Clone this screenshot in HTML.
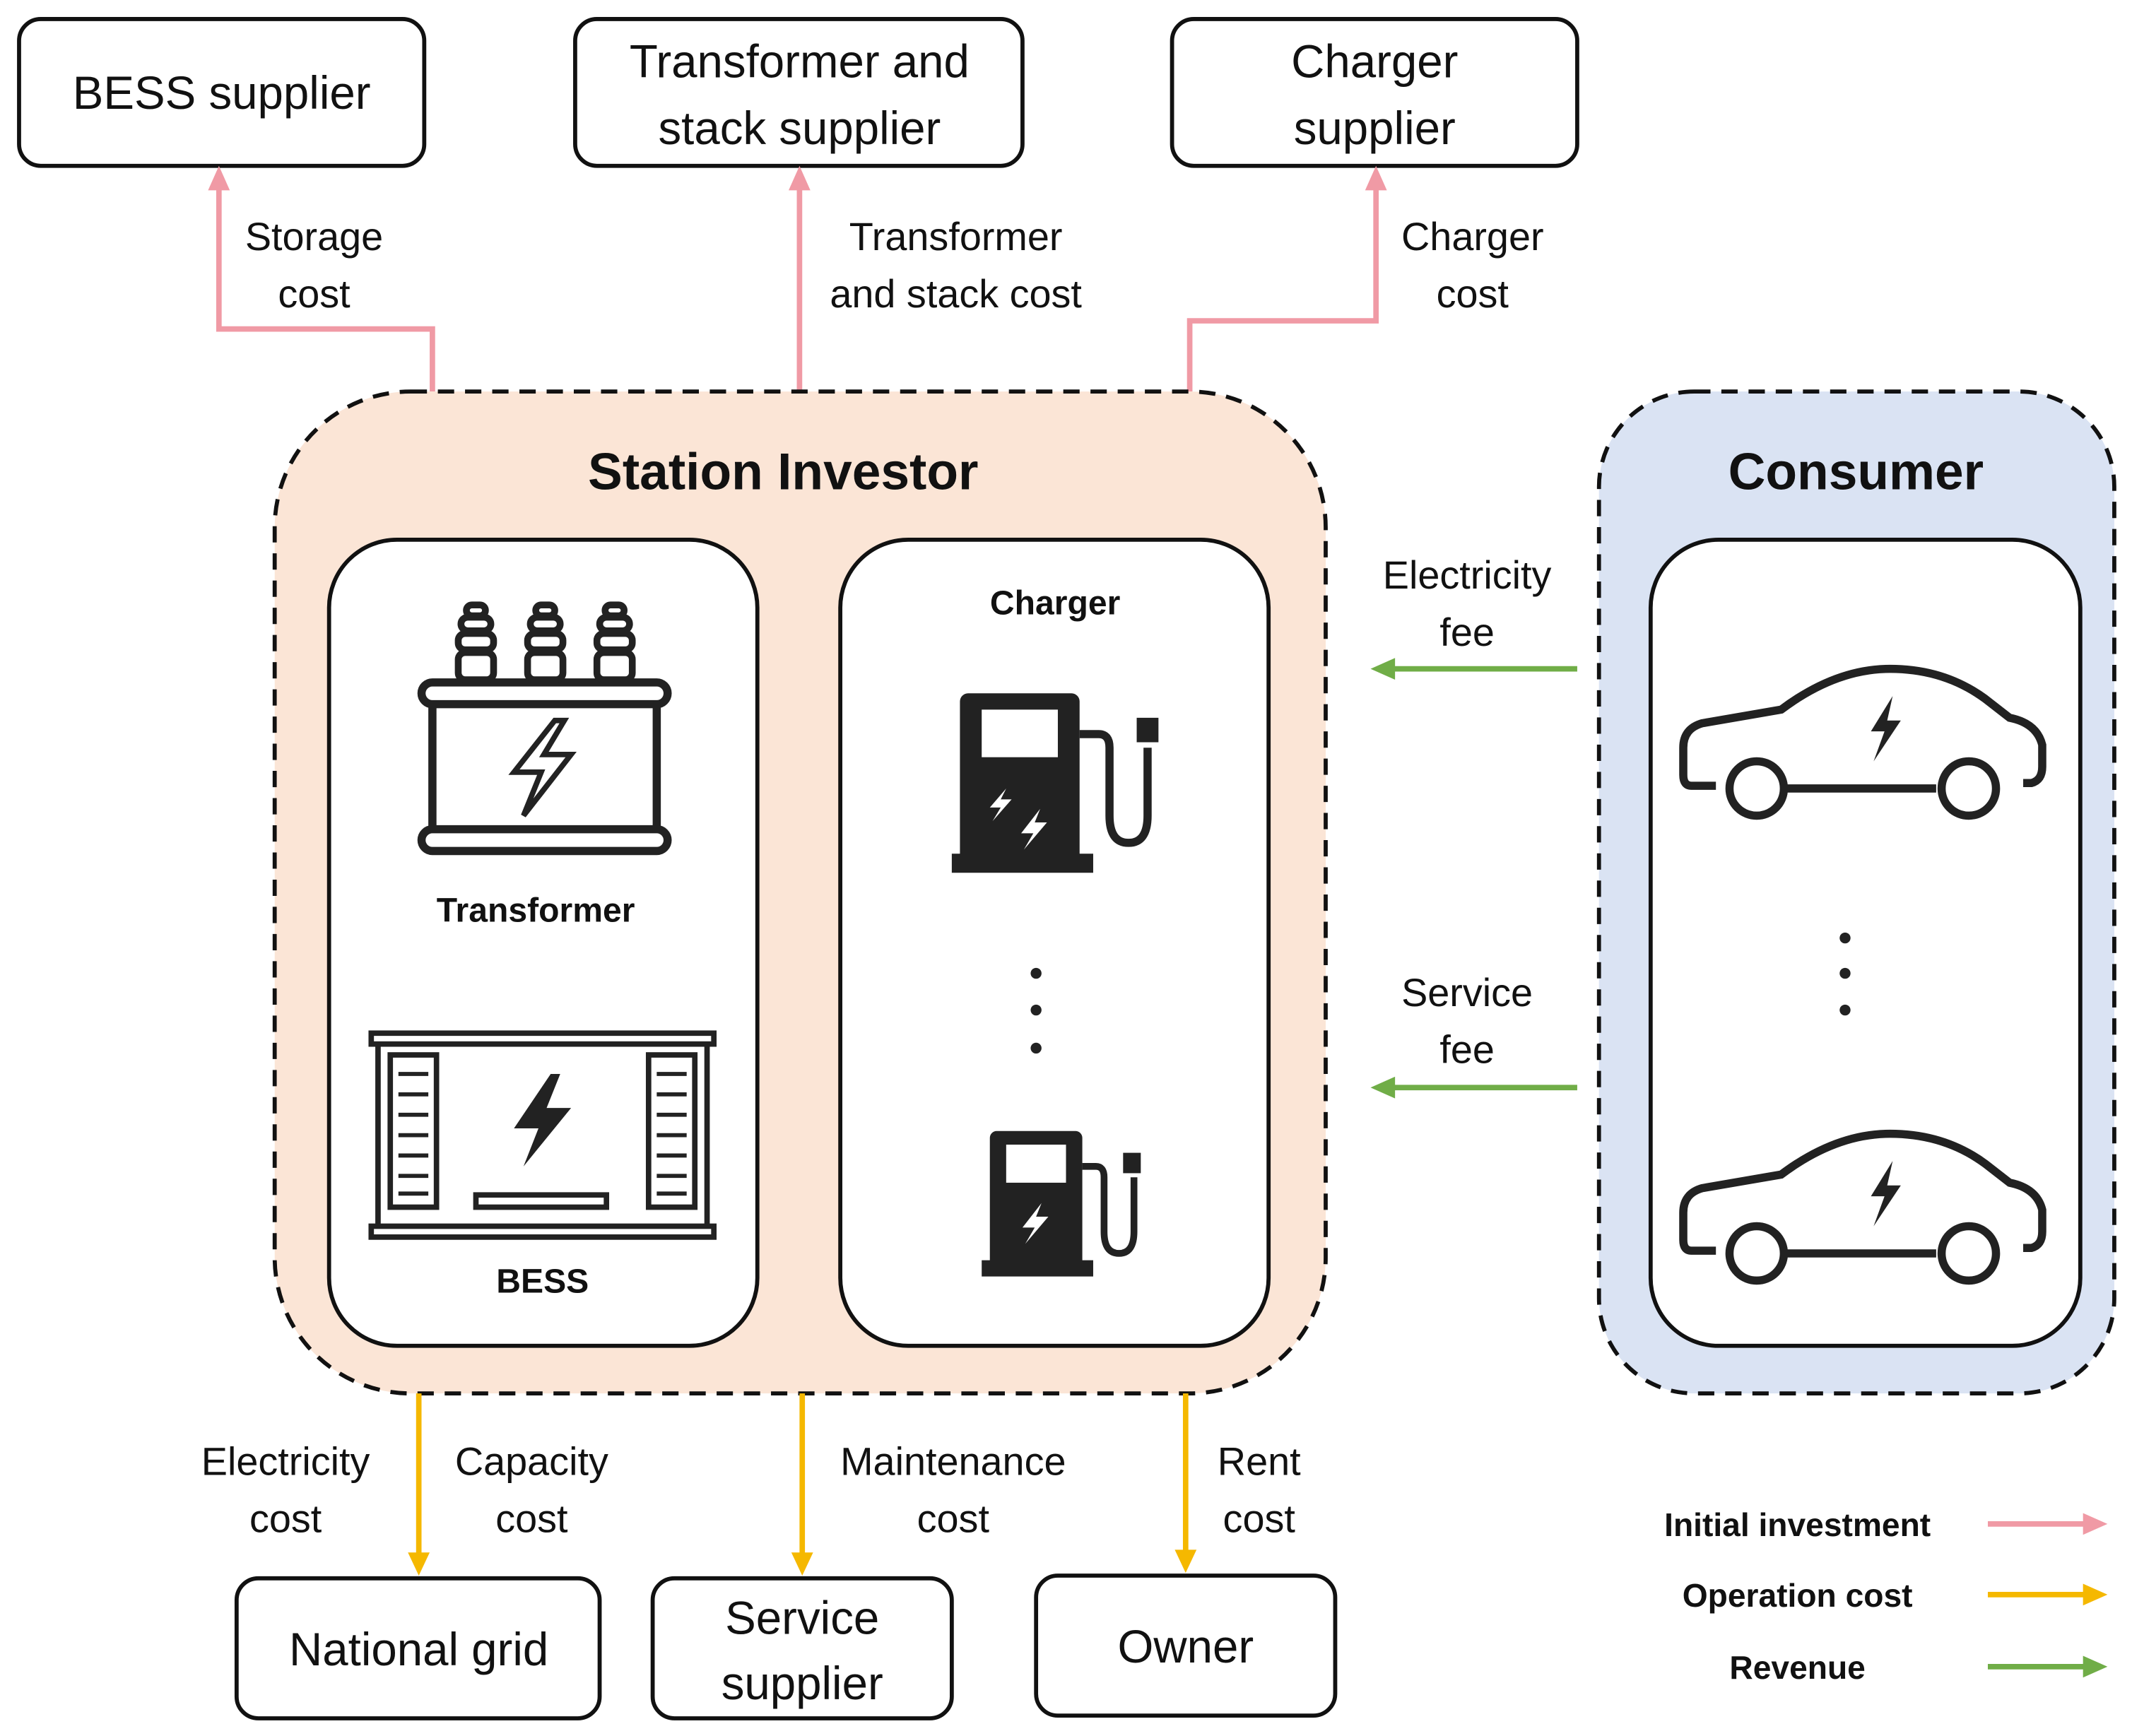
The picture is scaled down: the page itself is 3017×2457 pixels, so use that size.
<!DOCTYPE html>
<html><head><meta charset="utf-8"><style>
html,body{margin:0;padding:0;background:#fff;}
svg{display:block;}
text{font-family:"Liberation Sans","DejaVu Sans",sans-serif;fill:#111;}
</style></head><body>
<svg width="3017" height="2457" viewBox="0 0 1568 1277" xmlns="http://www.w3.org/2000/svg">
<defs>
<marker id="ap" markerWidth="8" markerHeight="8" refX="4" refY="4" orient="auto" markerUnits="userSpaceOnUse" viewBox="0 0 8 8"><path d="M0,0 L8,4 L0,8 z" fill="#f09aa5"/></marker>
</defs>
<rect width="1568" height="1277" fill="#fff"/>
<!-- top boxes -->
<g fill="#fff" stroke="#111" stroke-width="3">
<rect x="14" y="14" width="298" height="108" rx="16"/>
<rect x="423" y="14" width="329" height="108" rx="16"/>
<rect x="862" y="14" width="298" height="108" rx="16"/>
<rect x="174" y="1161" width="267" height="103" rx="16"/>
<rect x="480" y="1161" width="220" height="103" rx="16"/>
<rect x="762" y="1159" width="220" height="103" rx="16"/>
</g>
<g font-size="34" text-anchor="middle">
<text x="163" y="80">BESS supplier</text>
<text x="588" y="57">Transformer and</text>
<text x="588" y="106">stack supplier</text>
<text x="1011" y="57">Charger</text>
<text x="1011" y="106">supplier</text>
<text x="308" y="1225">National grid</text>
<text x="590" y="1202">Service</text>
<text x="590" y="1250">supplier</text>
<text x="872" y="1223">Owner</text>
</g>
<!-- pink arrows -->
<g fill="none" stroke="#f09aa5" stroke-width="4">
<polyline points="318,288 318,242 161,242 161,138"/>
<line x1="588" y1="288" x2="588" y2="138"/>
<polyline points="875,288 875,236 1012,236 1012,138"/>
</g>
<g fill="#f09aa5">
<polygon points="161,122 153,140 169,140"/>
<polygon points="588,122 580,140 596,140"/>
<polygon points="1012,122 1004,140 1020,140"/>
</g>
<g font-size="29" text-anchor="middle">
<text x="231" y="184">Storage</text><text x="231" y="226">cost</text>
<text x="703" y="184">Transformer</text><text x="703" y="226">and stack cost</text>
<text x="1083" y="184">Charger</text><text x="1083" y="226">cost</text>
</g>
<!-- big boxes -->
<rect x="202" y="288" width="773" height="737" rx="100" fill="#fbe5d6" stroke="#111" stroke-width="3" stroke-dasharray="12,8"/>
<rect x="1176" y="288" width="379" height="737" rx="70" fill="#dae3f3" stroke="#111" stroke-width="3" stroke-dasharray="12,8"/>
<text x="576" y="360" font-size="38" font-weight="bold" text-anchor="middle">Station Investor</text>
<text x="1365" y="360" font-size="38" font-weight="bold" text-anchor="middle">Consumer</text>
<g fill="#fff" stroke="#111" stroke-width="3">
<rect x="242" y="397" width="315" height="593" rx="50"/>
<rect x="618" y="397" width="315" height="593" rx="50"/>
<rect x="1214" y="397" width="316" height="593" rx="50"/>
</g>
<g font-size="25" font-weight="bold" text-anchor="middle">
<text x="776" y="452">Charger</text>
<text x="394" y="678">Transformer</text>
<text x="399" y="951">BESS</text>
</g>
<!-- transformer icon -->
<g fill="none" stroke="#222" stroke-width="6">
<rect x="318" y="510" width="165" height="108" rx="6"/>
<rect x="310" y="502" width="181" height="16" rx="8" fill="#fff"/>
<rect x="310" y="610" width="181" height="16" rx="8" fill="#fff"/>
<path d="M408,530 L378,568 L398,568 L385,600 L420,555 L400,555 L415,530 Z" stroke-width="4"/>
</g>
<g fill="#fff" stroke="#222" stroke-width="5">
<g id="ins"><rect x="337" y="480" width="26" height="20" rx="5"/><rect x="337" y="466" width="26" height="12" rx="5"/><rect x="339" y="454" width="22" height="10" rx="5"/><rect x="343" y="445" width="14" height="8" rx="4"/></g>
<use href="#ins" x="51"/><use href="#ins" x="102"/>
</g>
<!-- BESS icon -->
<g fill="none" stroke="#222" stroke-width="4">
<rect x="273" y="760" width="252" height="8"/>
<rect x="273" y="902" width="252" height="8"/>
<line x1="278" y1="768" x2="278" y2="902"/><line x1="520" y1="768" x2="520" y2="902"/>
<rect x="287" y="776" width="34" height="112"/>
<rect x="477" y="776" width="34" height="112"/>
<rect x="350" y="879" width="96" height="9"/>
</g>
<g stroke="#222" stroke-width="3">
<line x1="293" y1="790" x2="315" y2="790"/><line x1="293" y1="805" x2="315" y2="805"/><line x1="293" y1="820" x2="315" y2="820"/><line x1="293" y1="835" x2="315" y2="835"/><line x1="293" y1="850" x2="315" y2="850"/><line x1="293" y1="865" x2="315" y2="865"/><line x1="293" y1="878" x2="315" y2="878"/>
<line x1="483" y1="790" x2="505" y2="790"/><line x1="483" y1="805" x2="505" y2="805"/><line x1="483" y1="820" x2="505" y2="820"/><line x1="483" y1="835" x2="505" y2="835"/><line x1="483" y1="850" x2="505" y2="850"/><line x1="483" y1="865" x2="505" y2="865"/><line x1="483" y1="878" x2="505" y2="878"/>
</g>
<path d="M405,790 L378,830 L396,830 L385,858 L420,815 L402,815 L412,790 Z" fill="#222"/>
<!-- chargers -->
<g id="ch1">
<path d="M712,510 h76 a6,6 0 0 1 6,6 v112 h10 v14 h-104 v-14 h6 v-112 a6,6 0 0 1 6,-6 z" fill="#222"/>
<rect x="722" y="522" width="56" height="35" fill="#fff"/>
<path d="M794,540 h14 q8,0 8,10 v50 q0,20 14,20 q14,0 14,-20 v-50" fill="none" stroke="#222" stroke-width="6"/>
<rect x="836" y="528" width="16" height="18" fill="#222"/>
<path d="M740,580 l-12,14 h8 l-6,10 14,-16 h-8z M765,595 l-14,18 h9 l-7,12 17,-20 h-9z" fill="#fff"/>
</g>
<g>
<path d="M733,832 h58 a5,5 0 0 1 5,5 v90 h8 v12 h-82 v-12 h6 v-90 a5,5 0 0 1 5,-5 z" fill="#222"/>
<rect x="740" y="842" width="44" height="28" fill="#fff"/>
<path d="M796,858 h10 q6,0 6,8 v40 q0,16 11,16 q11,0 11,-16 v-40" fill="none" stroke="#222" stroke-width="5"/>
<rect x="826" y="848" width="13" height="15" fill="#222"/>
<path d="M766,885 l-14,18 h9 l-7,12 17,-20 h-9z" fill="#fff"/>
</g>
<g fill="#222">
<circle cx="762" cy="716" r="4"/><circle cx="762" cy="743" r="4"/><circle cx="762" cy="771" r="4"/>
<circle cx="1357" cy="690" r="4"/><circle cx="1357" cy="716" r="4"/><circle cx="1357" cy="743" r="4"/>
</g>
<!-- cars -->
<g id="car" fill="none" stroke="#222" stroke-width="6">
<path d="M1262,578 h-18 q-6,0 -6,-8 v-20 q0,-14 14,-18 l58,-10 q40,-30 80,-30 q40,0 70,22 l18,14 q20,4 24,20 v16 q0,10 -8,12 h-6 M1314,580 h110 M1468,580 h0"/>
<circle cx="1292" cy="580" r="20"/><circle cx="1448" cy="580" r="20"/>
<path d="M1392,512 l-16,26 h10 l-8,22 20,-30 h-10z" fill="#222" stroke="none"/>
</g>
<use href="#car" y="342"/>
<!-- green arrows -->
<g stroke="#70ad47" stroke-width="4" fill="#70ad47">
<line x1="1160" y1="492" x2="1024" y2="492"/><polygon points="1008,492 1026,484 1026,500" stroke="none"/>
<line x1="1160" y1="800" x2="1024" y2="800"/><polygon points="1008,800 1026,792 1026,808" stroke="none"/>
</g>
<g font-size="29" text-anchor="middle">
<text x="1079" y="433">Electricity</text><text x="1079" y="475">fee</text>
<text x="1079" y="740">Service</text><text x="1079" y="782">fee</text>
</g>
<!-- yellow arrows -->
<g stroke="#f5b800" stroke-width="4" fill="#f5b800">
<line x1="308" y1="1025" x2="308" y2="1144"/><polygon points="308,1159 300,1142 316,1142" stroke="none"/>
<line x1="590" y1="1025" x2="590" y2="1144"/><polygon points="590,1159 582,1142 598,1142" stroke="none"/>
<line x1="872" y1="1025" x2="872" y2="1142"/><polygon points="872,1157 864,1140 880,1140" stroke="none"/>
</g>
<g font-size="29" text-anchor="middle">
<text x="210" y="1085">Electricity</text><text x="210" y="1127">cost</text>
<text x="391" y="1085">Capacity</text><text x="391" y="1127">cost</text>
<text x="701" y="1085">Maintenance</text><text x="701" y="1127">cost</text>
<text x="926" y="1085">Rent</text><text x="926" y="1127">cost</text>
</g>
<!-- legend -->
<g font-size="24" font-weight="bold" text-anchor="middle">
<text x="1322" y="1130">Initial investment</text>
<text x="1322" y="1182">Operation cost</text>
<text x="1322" y="1235">Revenue</text>
</g>
<g stroke-width="4">
<line x1="1462" y1="1121" x2="1534" y2="1121" stroke="#f09aa5"/><polygon points="1550,1121 1532,1113 1532,1129" fill="#f09aa5"/>
<line x1="1462" y1="1173" x2="1534" y2="1173" stroke="#f5b800"/><polygon points="1550,1173 1532,1165 1532,1181" fill="#f5b800"/>
<line x1="1462" y1="1226" x2="1534" y2="1226" stroke="#70ad47"/><polygon points="1550,1226 1532,1218 1532,1234" fill="#70ad47"/>
</g>
</svg>
</body></html>
